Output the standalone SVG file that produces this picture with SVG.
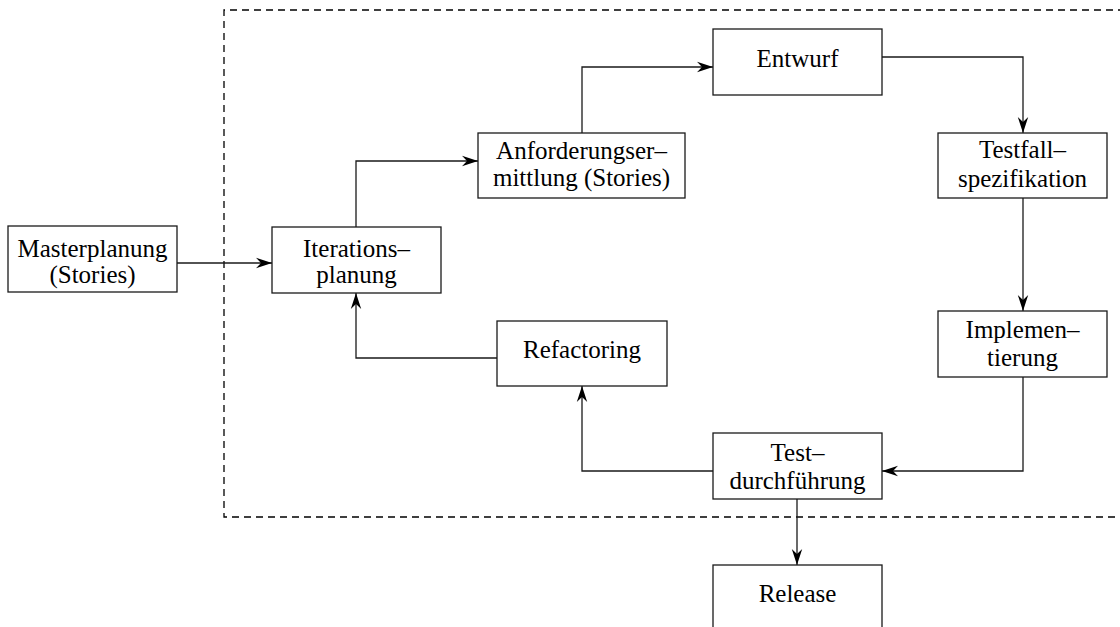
<svg xmlns="http://www.w3.org/2000/svg" width="1120" height="627" viewBox="0 0 1120 627">
  <style>
    .box { fill: #ffffff; stroke: #1a1a1a; stroke-width: 1.3; }
    .lbl { font-family: "Liberation Serif", "Times New Roman", serif; font-size: 25px; fill: #000000; text-anchor: middle; }
    .edge { fill: none; stroke: #1a1a1a; stroke-width: 1.3; }
    .frame { fill: none; stroke: #000000; stroke-width: 1.3; stroke-dasharray: 7 5; }
  </style>
  <defs>
    <marker id="arrow" viewBox="-17 -7 18 14" refX="0" refY="0" markerWidth="18" markerHeight="14" markerUnits="userSpaceOnUse" orient="auto">
      <path d="M0,0 L-16,-5.2 L-11,0 L-16,5.2 Z" fill="#000000"/>
    </marker>
  </defs>
  <rect width="1120" height="627" fill="#ffffff"/>

  <!-- iteration boundary -->
  <path class="frame" d="M1125,10 H224 V517 H1125"/>

  <!-- connectors -->
  <g id="connectors">
    <path class="edge" d="M177,263 H272" marker-end="url(#arrow)"/>
    <path class="edge" d="M356,227 V161 H478" marker-end="url(#arrow)"/>
    <path class="edge" d="M582,133 V67 H713" marker-end="url(#arrow)"/>
    <path class="edge" d="M882,57 H1023 V133" marker-end="url(#arrow)"/>
    <path class="edge" d="M1023,198 V311" marker-end="url(#arrow)"/>
    <path class="edge" d="M1023,377 V471 H882" marker-end="url(#arrow)"/>
    <path class="edge" d="M713,471 H582 V386" marker-end="url(#arrow)"/>
    <path class="edge" d="M497,358 H356 V293" marker-end="url(#arrow)"/>
    <path class="edge" d="M797,499 V565" marker-end="url(#arrow)"/>
  </g>

  <g id="masterplanung">
    <rect class="box" x="8" y="226" width="169" height="66"/>
    <text class="lbl" x="92.5" y="257">Masterplanung</text>
    <text class="lbl" x="92.5" y="283">(Stories)</text>
  </g>

  <g id="iterationsplanung">
    <rect class="box" x="272" y="227" width="169" height="66"/>
    <text class="lbl" x="356.5" y="257">Iterations–</text>
    <text class="lbl" x="356.5" y="283">planung</text>
  </g>

  <g id="anforderungsermittlung">
    <rect class="box" x="478" y="133" width="207" height="65"/>
    <text class="lbl" x="581.5" y="159">Anforderungser–</text>
    <text class="lbl" x="581.5" y="186">mittlung (Stories)</text>
  </g>

  <g id="entwurf">
    <rect class="box" x="713" y="29" width="169" height="66"/>
    <text class="lbl" x="797.5" y="67">Entwurf</text>
  </g>

  <g id="testfallspezifikation">
    <rect class="box" x="938" y="133" width="169" height="65"/>
    <text class="lbl" x="1022.5" y="158">Testfall–</text>
    <text class="lbl" x="1022.5" y="187">spezifikation</text>
  </g>

  <g id="implementierung">
    <rect class="box" x="938" y="311" width="169" height="66"/>
    <text class="lbl" x="1022.5" y="338">Implemen–</text>
    <text class="lbl" x="1022.5" y="366">tierung</text>
  </g>

  <g id="testdurchfuehrung">
    <rect class="box" x="713" y="433" width="169" height="66"/>
    <text class="lbl" x="797.5" y="461">Test–</text>
    <text class="lbl" x="797.5" y="489">durchführung</text>
  </g>

  <g id="refactoring">
    <rect class="box" x="497" y="321" width="170" height="65"/>
    <text class="lbl" x="582" y="358">Refactoring</text>
  </g>

  <g id="release">
    <rect class="box" x="713" y="565" width="169" height="66"/>
    <text class="lbl" x="797.5" y="602">Release</text>
  </g>
</svg>
